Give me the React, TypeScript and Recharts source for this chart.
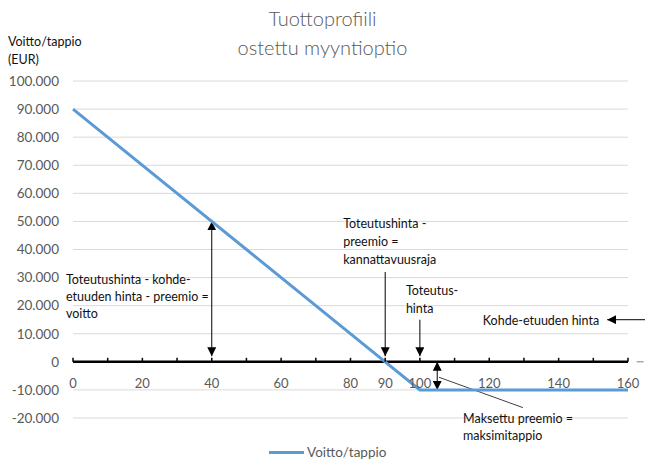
import { CartesianGrid, Legend, Line, LineChart, ReferenceDot, ReferenceLine, XAxis, YAxis } from 'recharts'

// payoff of a bought put: strike 100, premium 10 per unit (x 1000)
const underlyingPrice = [0, 90, 100, 160]
const profitLoss = [90000, 0, -10000, -10000]

const xTickMarks = [0, 10, 20, 30, 40, 50, 60, 70, 80, 90, 100, 110, 120, 130, 140, 150, 160]
const xTickLabels = [0, 20, 40, 60, 80, 90, 100, 120, 140, 160]
const yTicks = [-20000, -10000, 0, 10000, 20000, 30000, 40000, 50000, 60000, 70000, 80000, 90000, 100000]

const data = underlyingPrice.map((x, i) => ({ x, y: profitLoss[i] }))

const FONT = 'Lato, "Open Sans", sans-serif'
const GRAY = '#595959'
const BLUE = '#5B9BD5'

const fmt = (v: number) => String(v).replace(/\B(?=(\d{3})+(?!\d))/g, '.')

const XTick = ({ cx, cy, label }: any) => (
  <g>
    <line x1={cx} x2={cx} y1={cy - 4} y2={cy} stroke="#000" strokeWidth={1.5} />
    {label != null && (
      <text x={cx} y={cy + 21} textAnchor="middle" dominantBaseline="central" fontSize={13} fill={GRAY}>
        {label}
      </text>
    )}
  </g>
)

const Note = ({ cx, cy, lines, dx = 0, dy = 0, lh = 17, anchor = 'start' }: any) => (
  <text x={cx + dx} y={cy + dy} fontSize={12.5} fill="#111" textAnchor={anchor} dominantBaseline="central">
    {lines.map((t: string, i: number) => (
      <tspan key={i} x={cx + dx} y={cy + dy + i * lh}>
        {t}
      </tspan>
    ))}
  </text>
)

const arrow = { stroke: '#000', strokeWidth: 1 }

export default function App() {
  return (
    <div style={{ position: 'absolute', left: 0, top: 0, width: 645, height: 462, fontFamily: FONT, background: '#fff' }}>
      <div style={{ position: 'absolute', top: 4, width: 645, textAlign: 'center', fontSize: 20, fontWeight: 300, lineHeight: '29px', color: GRAY }}>
        Tuottoprofiili
        <br />
        ostettu myyntioptio
      </div>
      <div style={{ position: 'absolute', left: 8, top: 33, fontSize: 12.5, lineHeight: '18px', color: '#111' }}>
        Voitto/tappio
        <br />
        (EUR)
      </div>
      <LineChart width={645} height={462} data={data} margin={{ top: 81, right: 17, left: 0, bottom: 26 }}>
        <defs>
          <marker id="head" viewBox="0 0 10 10" refX={10} refY={5} markerWidth={9} markerHeight={9} markerUnits="userSpaceOnUse" orient="auto-start-reverse">
            <path d="M0,0 L10,5 L0,10 z" fill="#000" />
          </marker>
        </defs>
        <CartesianGrid horizontal vertical={false} stroke="#d9d9d9" />
        <XAxis dataKey="x" type="number" domain={[0, 160]} hide />
        <YAxis
          type="number"
          domain={[-20000, 100000]}
          ticks={yTicks}
          width={73}
          axisLine={false}
          tickLine={false}
          tickMargin={8}
          tickFormatter={fmt}
          tick={{ fontSize: 13.5, fill: GRAY }}
        />
        <ReferenceLine y={0} stroke="#000" strokeWidth={2.5} />
        {xTickMarks.map((t) => (
          <ReferenceDot
            key={t}
            x={t}
            y={0}
            r={0}
            ifOverflow="visible"
            shape={(p: any) => <XTick {...p} label={xTickLabels.includes(t) ? t : null} />}
          />
        ))}
        <ReferenceLine segment={[{ x: 162.5, y: 0 }, { x: 164.5, y: 0 }]} stroke="#7f7f7f" strokeWidth={1} ifOverflow="visible" />

        {/* annotation arrows */}
        <ReferenceLine segment={[{ x: 40, y: 2000 }, { x: 40, y: 50000 }]} {...arrow} markerStart="url(#head)" markerEnd="url(#head)" />
        <ReferenceLine segment={[{ x: 90, y: 32000 }, { x: 90, y: 2000 }]} {...arrow} markerEnd="url(#head)" />
        <ReferenceLine segment={[{ x: 100, y: 15000 }, { x: 100, y: 2000 }]} {...arrow} markerEnd="url(#head)" />
        <ReferenceLine segment={[{ x: 105, y: 0 }, { x: 105, y: -10000 }]} {...arrow} markerStart="url(#head)" markerEnd="url(#head)" />
        <ReferenceLine segment={[{ x: 166, y: 15000 }, { x: 154, y: 15000 }]} {...arrow} markerEnd="url(#head)" ifOverflow="visible" />
        <ReferenceLine segment={[{ x: 105.5, y: -5500 }, { x: 129.7, y: -16300 }]} stroke="#000" strokeWidth={0.75} />

        <ReferenceDot x={0} y={30000} r={0} ifOverflow="visible" shape={(p: any) => <Note {...p} dx={-7} dy={1.5} lh={17} lines={['Toteutushinta - kohde-', 'etuuden hinta - preemio =', 'voitto']} />} />
        <ReferenceDot x={90} y={50000} r={0} ifOverflow="visible" shape={(p: any) => <Note {...p} dx={-42} dy={1.5} lh={18} lines={['Toteutushinta -', 'preemio =', 'kannattavuusraja']} />} />
        <ReferenceDot x={100} y={25000} r={0} ifOverflow="visible" shape={(p: any) => <Note {...p} dx={-14} dy={-2} lh={18} lines={['Toteutus-', 'hinta']} />} />
        <ReferenceDot x={154} y={15000} r={0} ifOverflow="visible" shape={(p: any) => <Note {...p} dx={-8} anchor="end" lines={['Kohde-etuuden hinta']} />} />
        <ReferenceDot x={112} y={-20000} r={0} ifOverflow="visible" shape={(p: any) => <Note {...p} dx={1.5} lh={17} lines={['Maksettu preemio =', 'maksimitappio']} />} />

        <Line
          dataKey="y"
          name="Voitto/tappio"
          type="linear"
          stroke={BLUE}
          strokeWidth={3}
          dot={false}
          activeDot={false}
          isAnimationActive={false}
        />
        <Legend
          verticalAlign="bottom"
          wrapperStyle={{ top: 443, bottom: 'auto', left: 0, width: 645 }}
          content={() => (
            <div style={{ display: 'flex', alignItems: 'center', paddingLeft: 269, height: 18, fontSize: 13.5, color: GRAY }}>
              <span style={{ display: 'inline-block', width: 35, height: 3, background: BLUE, marginRight: 3 }} />
              <span>Voitto/tappio</span>
            </div>
          )}
        />
      </LineChart>
    </div>
  )
}
